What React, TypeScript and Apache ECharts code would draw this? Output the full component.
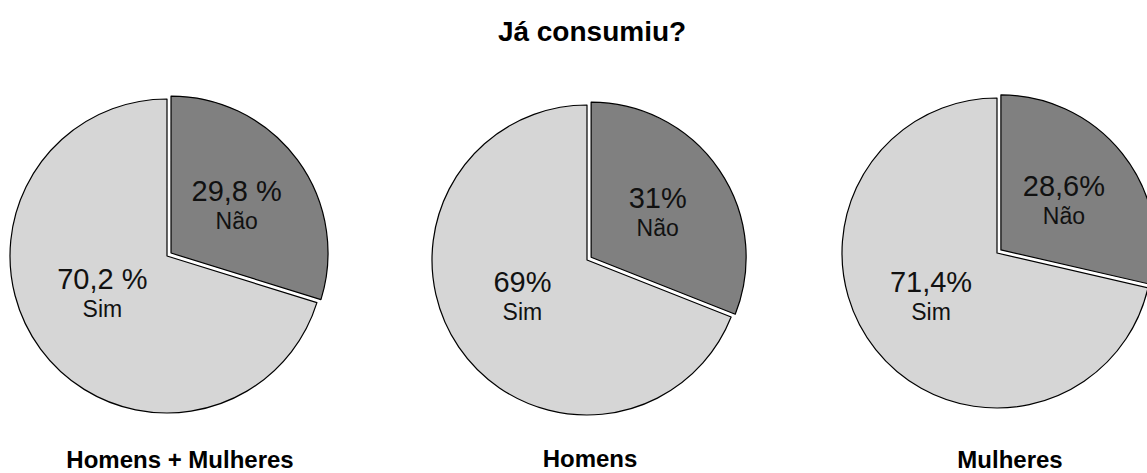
import React, { useEffect, useRef } from "react";
import * as echarts from "echarts";

const chartTitle = "Já consumiu?";
const groups = ["Homens + Mulheres", "Homens", "Mulheres"];
const categories = ["Não", "Sim"];
const naoValues = [29.8, 31, 28.6];
const simValues = [70.2, 69, 71.4];
const naoLabels = ["29,8 %", "31%", "28,6%"];
const simLabels = ["70,2 %", "69%", "71,4%"];

const centers: [number, number][] = [
  [167, 256],
  [587, 260],
  [997, 253],
];
const radii = [157, 155, 155];
const groupLabelX = [180, 590, 1010];
const groupLabelTop = [448, 447, 448];
const naoLabelOffset: [number, number][] = [[1, 2], [1, 4], [3, 3]];
const simLabelOffset: [number, number][] = [[1, -11], [2, -9], [-3, -7]];

const FONT = "'Liberation Sans', Arial, sans-serif";

export default function App() {
  const ref = useRef<HTMLDivElement>(null);
  useEffect(() => {
    document.body.style.margin = "0";
    const chart = echarts.init(ref.current!, null, { renderer: "svg" });
    const series = groups.map((g, i) => ({
      type: "pie",
      name: g,
      center: centers[i],
      radius: [0, radii[i]],
      startAngle: 90,
      clockwise: true,
      selectedMode: "multiple",
      selectedOffset: 5,
      silent: true,
      emphasis: { disabled: true },
      labelLine: { show: false },
      label: {
        show: true,
        position: "inside",
        fontFamily: FONT,
        color: "#111",
        formatter: (p: any) =>
          `{p|${p.dataIndex === 0 ? naoLabels[i] : simLabels[i]}}\n{n|${p.name}}`,
        rich: {
          p: { fontSize: 29, fontFamily: FONT, color: "#111", lineHeight: 32 },
          n: { fontSize: 23, fontFamily: FONT, color: "#111", lineHeight: 28 },
        },
      },
      itemStyle: { borderColor: "#000", borderWidth: 1.2 },
      data: [
        {
          name: categories[0],
          value: naoValues[i],
          selected: true,
          itemStyle: { color: "#808080" },
          label: { offset: naoLabelOffset[i] },
        },
        {
          name: categories[1],
          value: simValues[i],
          itemStyle: { color: "#d6d6d6" },
          label: { offset: simLabelOffset[i] },
        },
      ],
    }));
    chart.setOption({
      animation: false,
      backgroundColor: "#fff",
      title: [
        {
          text: chartTitle,
          left: 592,
          top: 17,
          padding: 0,
          textAlign: "center",
          textStyle: { fontFamily: FONT, fontSize: 28, lineHeight: 28, fontWeight: "bold", color: "#000" },
        },
        ...groups.map((g, i) => ({
          text: g,
          left: groupLabelX[i],
          top: groupLabelTop[i],
          padding: 0,
          textAlign: "center",
          textStyle: { fontFamily: FONT, fontSize: 24, lineHeight: 22, fontWeight: "bold", color: "#000" },
        })),
      ],
      series,
    });
    return () => chart.dispose();
  }, []);
  return <div ref={ref} style={{ width: 1147, height: 473 }} />;
}
